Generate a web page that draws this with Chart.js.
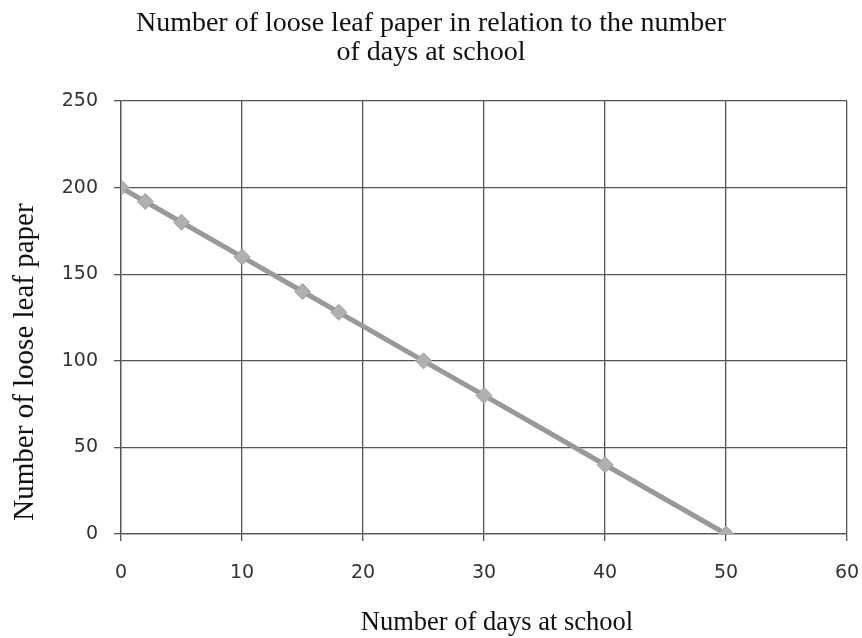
<!DOCTYPE html>
<html>
<head>
<meta charset="utf-8">
<script src="https://cdn.jsdelivr.net/npm/chart.js@4"></script>
<style>
  html, body { margin: 0; padding: 0; background: #fff; }
  #wrap { width: 862px; height: 638px; }
</style>
</head>
<body>
<div id="wrap"><canvas id="paperChart" width="862" height="638"></canvas></div>
<script>
// Data
const days = [0, 2, 5, 10, 15, 18, 25, 30, 40, 50];
const paperLeft = [200, 192, 180, 160, 140, 128, 100, 80, 40, 0];

const chartTitle = ["Number of loose leaf paper in relation to the number", "of days at school"];
const xTitle = "Number of days at school";
const yTitle = "Number of loose leaf paper";

const points = days.map((d, i) => ({ x: d, y: paperLeft[i] }));

const gridColor = "#555";
const serif = "'Liberation Serif', 'DejaVu Serif', serif";
const sans = "'DejaVu Sans', Verdana, sans-serif";

// Titles drawn by hand so they sit where the original has them
const titlePlugin = {
    id: 'titles',
    afterDraw(chart) {
        const c = chart.ctx;
        c.save();
        c.fillStyle = "#111";
        c.textAlign = "center";
        c.textBaseline = "alphabetic";

        c.font = "28px " + serif;
        c.fillText(chartTitle[0], 431, 31);
        c.fillText(chartTitle[1], 431, 60);

        c.font = "26.5px " + serif;
        c.fillText(xTitle, 497, 630);

        c.translate(33, 362);
        c.rotate(-Math.PI / 2);
        c.font = "29px " + serif;
        c.fillText(yTitle, 0, 0);
        c.restore();
    },
};

const ctx = document.getElementById('paperChart').getContext('2d');
const paperChart = new Chart(ctx, {
    type: 'line',
    data: {
        datasets: [
            {
                label: "Loose leaf paper",
                data: points,
                borderColor: "#999",
                borderWidth: 5,
                backgroundColor: "#aaa",
                pointStyle: 'rectRot',
                pointRadius: 8,
                pointBorderColor: "#a0a0a0",
                pointBackgroundColor: "#b0b0b0",
                pointBorderWidth: 1,
                tension: 0,
                fill: false,
            },
        ],
    },
    options: {
        responsive: false,
        animation: false,
        layout: { padding: { left: 0, right: 15, top: 101, bottom: 0 } },
        plugins: {
            legend: { display: false },
            tooltip: { enabled: false },
            title: { display: false },
        },
        scales: {
            x: {
                type: 'linear',
                min: 0,
                max: 60,
                ticks: {
                    stepSize: 10,
                    color: "#333",
                    font: { family: sans, size: 19 },
                    padding: 21,
                },
                grid: {
                    color: gridColor,
                    lineWidth: 1.3,
                    tickLength: 7,
                    tickColor: gridColor,
                },
                border: { color: gridColor, width: 1.3 },
                afterFit: (scale) => {
                    scale.height = 104;
                    scale.paddingLeft = 0;
                    scale.paddingRight = 0;
                },
            },
            y: {
                min: 0,
                max: 250,
                ticks: {
                    stepSize: 50,
                    color: "#333",
                    font: { family: sans, size: 19 },
                    padding: 16,
                },
                grid: {
                    color: gridColor,
                    lineWidth: 1.3,
                    tickLength: 7,
                    tickColor: gridColor,
                },
                border: { color: gridColor, width: 1.3 },
                afterFit: (scale) => {
                    scale.width = 121;
                    scale.paddingTop = 0;
                    scale.paddingBottom = 0;
                },
            },
        },
    },
    plugins: [titlePlugin],
});
</script>
</body>
</html>
